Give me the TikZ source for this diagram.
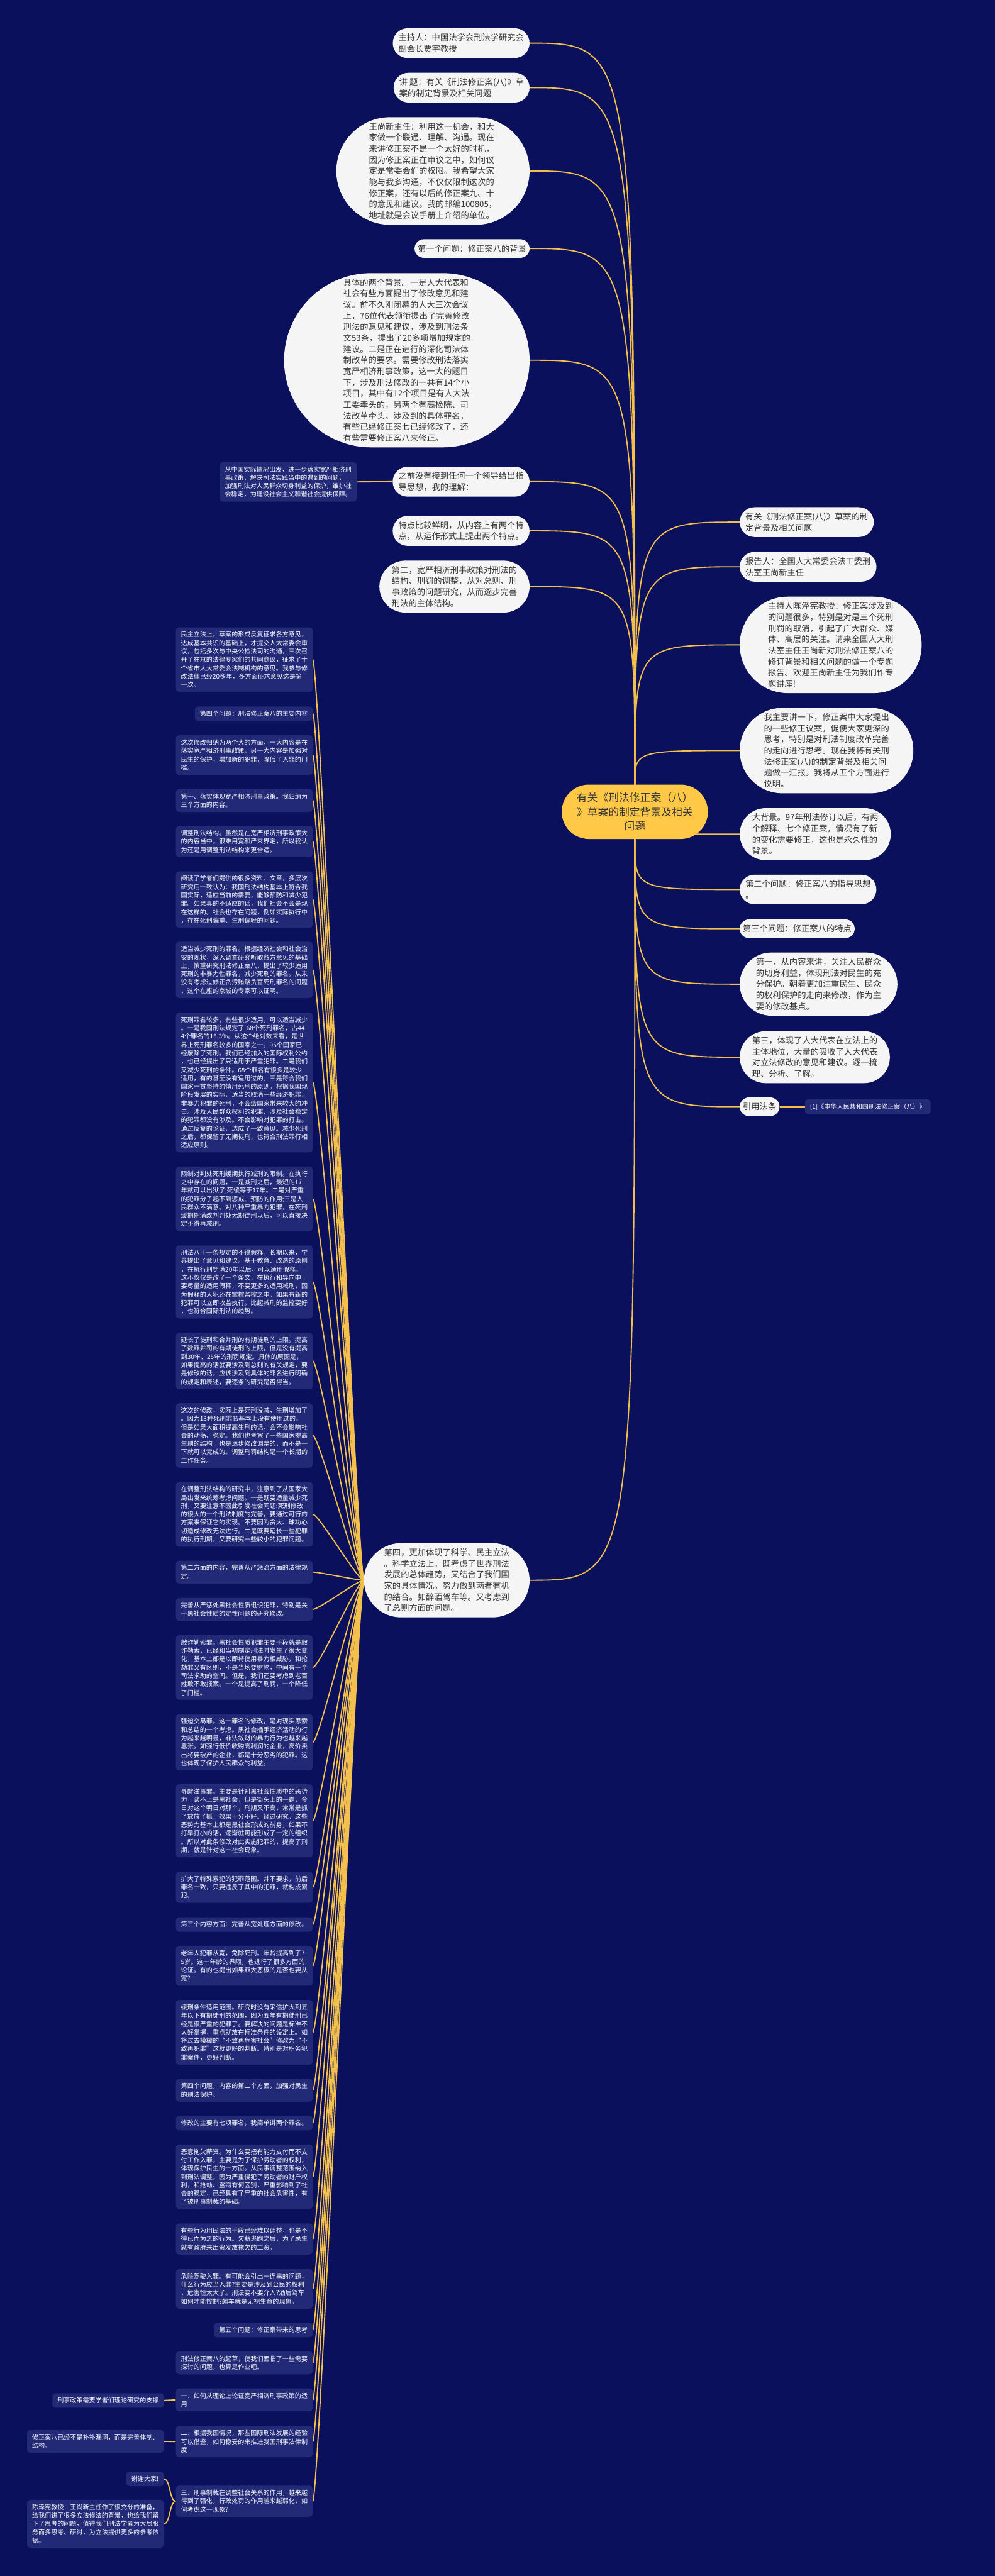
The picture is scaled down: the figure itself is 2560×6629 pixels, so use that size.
\documentclass[tikz,border=0pt]{standalone}
\usepackage{fontspec}
\setmainfont{Noto Sans CJK SC}
\usetikzlibrary{shapes.misc,backgrounds}

\definecolor{bgnavy}{HTML}{0B105C}
\definecolor{darkbox}{HTML}{222A78}
\definecolor{paper}{HTML}{F5F5F5}
\definecolor{ink}{HTML}{333333}
\definecolor{hubgold}{HTML}{FFC847}
\definecolor{wiregold}{HTML}{F3C04E}

\begin{document}
\begin{tikzpicture}[
  x=0.5pt, y=-0.5pt,
  pillbox/.style={shape=rounded rectangle,fill=paper,text=ink,align=left,
    font=\fontsize{10.75}{14.3}\selectfont,inner xsep=3pt,inner ysep=7pt},
  hubbox/.style={pillbox,fill=hubgold,align=center,
    font=\fontsize{13.6}{18.35}\selectfont,inner xsep=9pt,inner ysep=10.3pt},
  notebox/.style={fill=darkbox,text=white,rounded corners=4pt,align=left,
    font=\fontsize{8.15}{10.75}\selectfont,inner xsep=6.5pt,inner ysep=5.5pt},
  notewide/.style={notebox,text width=163pt},
  linkline/.style={draw=wiregold,line width=1.5pt},
  fanto/.style={to path={.. controls (\tikztostart |- \tikztotarget) .. (\tikztotarget)}},
  hookto/.style={to path={.. controls ([xshift=-8pt]\tikztostart) and ([xshift=8pt]\tikztotarget) .. (\tikztotarget)}},
]
\useasboundingbox (0,0) rectangle (2560,6629);
% ---- root ----
\node[hubbox] (root) at (1633.5,2089) {有关《刑法修正案（八）\\》草案的制定背景及相关\\问题};
% ---- left branches of the root ----
\node[pillbox,anchor=east] (host) at (1363,111) {主持人：中国法学会刑法学研究会\\副会长贾宇教授};
\node[pillbox,anchor=east] (topic) at (1363,225.5) {讲 题：有关《刑法修正案(八)》草\\案的制定背景及相关问题};
\node[pillbox,anchor=east] (wang) at (1363,440) {王尚新主任：利用这一机会，和大\\家做一个联通、理解、沟通。现在\\来讲修正案不是一个太好的时机，\\因为修正案正在审议之中，如何议\\定是常委会们的权限。我希望大家\\能与我多沟通，不仅仅限制这次的\\修正案，还有以后的修正案九、十\\的意见和建议。我的邮编100805，\\地址就是会议手册上介绍的单位。};
\node[pillbox,anchor=east] (qone) at (1363,639.5) {第一个问题：修正案八的背景};
\node[pillbox,anchor=east] (twobg) at (1363,927) {具体的两个背景。一是人大代表和\\社会有些方面提出了修改意见和建\\议。前不久刚闭幕的人大三次会议\\上，76位代表领衔提出了完善修改\\刑法的意见和建议，涉及到刑法条\\文53条，提出了20多项增加规定的\\建议。二是正在进行的深化司法体\\制改革的要求。需要修改刑法落实\\宽严相济刑事政策，这一大的题目\\下，涉及刑法修改的一共有14个小\\项目，其中有12个项目是有人大法\\工委牵头的，另两个有高检院、司\\法改革牵头。涉及到的具体罪名，\\有些已经修正案七已经修改了，还\\有些需要修正案八来修正。};
\node[pillbox,anchor=east] (noguide) at (1363,1239.5) {之前没有接到任何一个领导给出指\\导思想，我的理解：};
\node[notewide,anchor=east] (support) at (918,1240) {从中国实际情况出发，进一步落实宽严相济刑\\事政策，解决司法实践当中的遇到的问题，\\加强刑法对人民群众切身利益的保护，维护社\\会稳定，为建设社会主义和谐社会提供保障。};
\node[pillbox,anchor=east] (trait) at (1363,1366) {特点比较鲜明，从内容上有两个特\\点，从运作形式上提出两个特点。};
\node[pillbox,anchor=east] (second) at (1363,1509.5) {第二，宽严相济刑事政策对刑法的\\结构、刑罚的调整，从对总则、刑\\事政策的问题研究，从而逐步完善\\刑法的主体结构。};
\node[pillbox,anchor=east] (fourth) at (1363,4066.5) {第四，更加体现了科学、民主立法\\。科学立法上，既考虑了世界刑法\\发展的总体趋势，又结合了我们国\\家的具体情况。努力做到两者有机\\的结合。如醉酒驾车等。又考虑到\\了总则方面的问题。};
% ---- right branches of the root ----
\node[pillbox,anchor=west] (title) at (1903,1343.5) {有关《刑法修正案(八)》草案的制\\定背景及相关问题};
\node[pillbox,anchor=west] (reporter) at (1903,1458.5) {报告人：全国人大常委会法工委刑\\法室王尚新主任};
\node[pillbox,anchor=west] (chair) at (1903,1659.5) {主持人陈泽宪教授：修正案涉及到\\的问题很多，特别是对是三个死刑\\刑罚的取消，引起了广大群众、媒\\体、高层的关注。请来全国人大刑\\法室主任王尚新对刑法修正案八的\\修订背景和相关问题的做一个专题\\报告。欢迎王尚新主任为我们作专\\题讲座!};
\node[pillbox,anchor=west] (intro) at (1903,1931.5) {我主要讲一下，修正案中大家提出\\的一些修正议案，促使大家更深的\\思考，特别是对刑法制度改革完善\\的走向进行思考。现在我将有关刑\\法修正案(八)的制定背景及相关问\\题做一汇报。我将从五个方面进行\\说明。};
\node[pillbox,anchor=west] (bigbg) at (1903,2146.5) {大背景。97年刑法修订以后，有两\\个解释、七个修正案，情况有了新\\的变化需要修正，这也是永久性的\\背景。};
\node[pillbox,anchor=west] (qtwo) at (1903,2289) {第二个问题：修正案八的指导思想\\。};
\node[pillbox,anchor=west] (qthree) at (1903,2390) {第三个问题：修正案八的特点};
\node[pillbox,anchor=west] (people) at (1903,2532.5) {第一，从内容来讲，关注人民群众\\的切身利益，体现刑法对民生的充\\分保护。朝着更加注重民生、民众\\的权利保护的走向来修改，作为主\\要的修改基点。};
\node[pillbox,anchor=west] (deputies) at (1903,2720.5) {第三，体现了人大代表在立法上的\\主体地位，大量的吸收了人大代表\\对立法修改的意见和建议。逐一梳\\理、分析、了解。};
\node[pillbox,anchor=west] (cite) at (1903,2848) {引用法条};
\node[notebox,anchor=west] (lawref) at (2071,2848) {[1]《中华人民共和国刑法修正案（八）》};
% ---- children of "第四" (left column) ----
\node[notewide,anchor=east] (demo) at (805,1697.5) {民主立法上，草案的形成反复征求各方意见，\\达成基本共识的基础上，才提交人大常委会审\\议，包括多次与中央公检法司的沟通，三次召\\开了在京的法律专家们的共同商议，征求了十\\个省市人大常委会法制机构的意见。我参与修\\改法律已经20多年，多方面征求意见这是第\\一次。};
\node[notebox,anchor=east] (qfour) at (805,1836.5) {第四个问题：刑法修正案八的主要内容};
\node[notewide,anchor=east] (twoside) at (805,1943) {这次修改归纳为两个大的方面，一大内容是在\\落实宽严相济刑事政策，另一大内容是加强对\\民生的保护，增加新的犯罪，降低了入罪的门\\槛。};
\node[notewide,anchor=east] (lenient) at (805,2060) {第一、落实体现宽严相济刑事政策。我归纳为\\三个方面的内容。};
\node[notewide,anchor=east] (structure) at (805,2165.5) {调整刑法结构。虽然是在宽严相济刑事政策大\\的内容当中，很难用宽和严来界定，所以我认\\为还是用调整刑法结构来更合适。};
\node[notewide,anchor=east] (reading) at (805,2315) {阅读了学者们提供的很多资料、文章，多层次\\研究后一致认为：我国刑法结构基本上符合我\\国实际，适应当前的需要，能够预防和减少犯\\罪。如果真的不适应的话，我们社会不会是现\\在这样的。社会也存在问题，例如实际执行中\\，存在死刑偏重、生刑偏轻的问题。};
\node[notewide,anchor=east] (fewer) at (805,2496) {适当减少死刑的罪名。根据经济社会和社会治\\安的现状，深入调查研究听取各方意见的基础\\上，慎重研究刑法修正案八，提出了较少适用\\死刑的非暴力性罪名，减少死刑的罪名。从来\\没有考虑过修正贪污贿赂贪官死刑罪名的问题\\，这个在座的京城的专家可以证明。};
\node[notewide,anchor=east] (deathcount) at (805,2785.5) {死刑罪名较多，有些很少适用，可以适当减少\\。一是我国刑法规定了 68个死刑罪名，占44\\4个罪名的15.3\%。从这个绝对数来看，是世\\界上死刑罪名较多的国家之一。95个国家已\\经废除了死刑。我们已经加入的国际权利公约\\，也已经提出了只适用于严重犯罪。二是我们\\又减少死刑的条件。68个罪名有很多是较少\\适用，有的甚至没有适用过的。三是符合我们\\国家一贯坚持的慎用死刑的原则。根据我国现\\阶段发展的实际，适当的取消一些经济犯罪、\\非暴力犯罪的死刑，不会给国家带来较大的冲\\击。涉及人民群众权利的犯罪、涉及社会稳定\\的犯罪都没有涉及。不会影响对犯罪的打击。\\通过反复的论证，达成了一致意见。减少死刑\\之后，都保留了无期徒刑，也符合刑法罪行相\\适应原则。};
\node[notewide,anchor=east] (suspend) at (805,3085) {限制对判处死刑缓期执行减刑的限制。在执行\\之中存在的问题，一是减刑之后，最短的17\\年就可以出狱了;死缓等于17年。二是对严重\\的犯罪分子起不到惩戒、预防的作用;三是人\\民群众不满意。对八种严重暴力犯罪，在死刑\\缓期期满改判判处无期徒刑以后，可以直接决\\定不得再减刑。};
\node[notewide,anchor=east] (parole) at (805,3299) {刑法八十一条规定的不得假释。长期以来，学\\界提出了意见和建议。基于教育、改造的原则\\，在执行刑罚满20年以后，可以适用假释。\\这不仅仅是改了一个条文，在执行和导向中，\\要尽量的适用假释，不要更多的适用减刑，因\\为假释的人犯还在掌控监控之中，如果有新的\\犯罪可以立即收监执行。比起减刑的监控要好\\，也符合国际刑法的趋势。};
\node[notewide,anchor=east] (extend) at (805,3502.5) {延长了徒刑和合并刑的有期徒刑的上限。提高\\了数罪并罚的有期徒刑的上限，但是没有提高\\到30年、25年的刑罚规定。具体的原因是，\\如果提高的话就要涉及到总则的有关规定，要\\是修改的话，应该涉及到具体的罪名进行明确\\的规定和表述，要逐条的研究是否得当。};
\node[notewide,anchor=east] (netchange) at (805,3694) {这次的修改，实际上是死刑没减，生刑增加了\\。因为13种死刑罪名基本上没有使用过的。\\但是如果大面积提高生刑的话，会不会影响社\\会的动荡、稳定。我们也考察了一些国家提高\\生刑的结构，也是逐步修改调整的，而不是一\\下就可以完成的。调整刑罚结构是一个长期的\\工作任务。};
\node[notewide,anchor=east] (overall) at (805,3897) {在调整刑法结构的研究中，注意到了从国家大\\局出发来统筹考虑问题。一是既要适量减少死\\刑，又要注意不因此引发社会问题;死刑修改\\的很大的一个刑法制度的完善，要通过可行的\\方案来保证它的实现。不要因为贪大、球功心\\切造成修改无法进行。二是既要延长一些犯罪\\的执行刑期，又要研究一些较小的犯罪问题。};
\node[notewide,anchor=east] (severe) at (805,4045.5) {第二方面的内容，完善从严惩治方面的法律规\\定。};
\node[notewide,anchor=east] (mafia) at (805,4141.5) {完善从严惩处黑社会性质组织犯罪，特别是关\\于黑社会性质的定性问题的研究修改。};
\node[notewide,anchor=east] (extort) at (805,4291) {敲诈勒索罪。黑社会性质犯罪主要手段就是敲\\诈勒索，已经和当初制定刑法时发生了很大变\\化，基本上都是以即将使用暴力相威胁，和抢\\劫罪又有区别，不是当场要财物，中间有一个\\司法求助的空间。但是，我们还要考虑到老百\\姓敢不敢报案。一个是提高了刑罚，一个降低\\了门槛。};
\node[notewide,anchor=east] (coerce) at (805,4483.5) {强迫交易罪。这一罪名的修改，是对现实思索\\和总结的一个考虑。黑社会插手经济活动的行\\为越来越明显，非法敛财的暴力行为也越来越\\嚣张。如强行低价收购高利润的企业，高价卖\\出将要破产的企业，都是十分恶劣的犯罪。这\\也体现了保护人民群众的利益。};
\node[notewide,anchor=east] (provoke) at (805,4685.5) {寻衅滋事罪。主要是针对黑社会性质中的恶势\\力，谈不上是黑社会，但是街头上的一霸，今\\日对这个明日对那个，刑期又不高，常常是抓\\了放放了抓，效果十分不好。经过研究，这些\\恶势力基本上都是黑社会形成的前身，如果不\\打早打小的话，逐渐就可能形成了一定的组织\\。所以对此条修改对此实施犯罪的，提高了刑\\期，就是针对这一社会现象。};
\node[notewide,anchor=east] (recid) at (805,4856.5) {扩大了特殊累犯的犯罪范围。并不要求，前后\\罪名一致，只要违反了其中的犯罪，就构成累\\犯。};
\node[notebox,anchor=east] (lenience) at (805,4952.5) {第三个内容方面：完善从宽处理方面的修改。};
\node[notewide,anchor=east] (elderly) at (805,5059) {老年人犯罪从宽，免除死刑。年龄提高到了7\\5岁。这一年龄的界限，也进行了很多方面的\\论证。有的也提出如果罪大恶极的是否也要从\\宽?};
\node[notewide,anchor=east] (probation) at (805,5230) {缓刑条件适用范围。研究时没有采信扩大到五\\年以下有期徒刑的范围，因为五年有期徒刑已\\经是很严重的犯罪了。要解决的问题是标准不\\太好掌握，重点就放在标准条件的设定上。如\\将过去模糊的“不致再危害社会”修改为“不\\致再犯罪”这就更好的判断。特别是对职务犯\\罪案件，更好判断。};
\node[notewide,anchor=east] (livelihood) at (805,5379) {第四个问题，内容的第二个方面，加强对民生\\的刑法保护。};
\node[notebox,anchor=east] (seven) at (805,5463.5) {修改的主要有七项罪名，我简单讲两个罪名。};
\node[notewide,anchor=east] (wages) at (805,5601.5) {恶意拖欠薪资。为什么要把有能力支付而不支\\付工作入罪，主要是为了保护劳动者的权利，\\体现保护民生的一方面。从民事调整范围纳入\\到刑法调整，因为严重侵犯了劳动者的财产权\\利，和抢劫、盗窃有何区别，严重影响到了社\\会的稳定，已经具有了严重的社会危害性，有\\了被刑事制裁的基础。};
\node[notewide,anchor=east] (civil) at (805,5761.5) {有些行为用民法的手段已经难以调整，也是不\\得已而为之的行为。欠薪逃跑之后，为了民生\\就有政府来出资发放拖欠的工资。};
\node[notewide,anchor=east] (drunk) at (805,5890) {危险驾驶入罪。有可能会引出一连串的问题，\\什么行为应当入罪?主要是涉及到公民的权利\\，危害性太大了。刑法要不要介入?酒后驾车\\如何才能控制?飙车就是无视生命的现象。};
\node[notebox,anchor=east] (qfive) at (805,5996) {第五个问题：修正案带来的思考};
\node[notewide,anchor=east] (draft) at (805,6080.5) {刑法修正案八的起草，使我们面临了一些需要\\探讨的问题，也算是作业吧。};
\node[notewide,anchor=east] (theory) at (805,6175.5) {一、如何从理论上论证宽严相济刑事政策的适\\用};
\node[notewide,anchor=east] (foreign) at (805,6283) {二、根据我国情况，那些国际刑法发展的经验\\可以借鉴，如何稳妥的来推进我国刑事法律制\\度};
\node[notewide,anchor=east] (sanction) at (805,6436.5) {三、刑事制裁在调整社会关系的作用，越来越\\得到了强化，行政处罚的作用越来越弱化，如\\何考虑这一现象？};
% ---- leaves on the far left ----
\node[notebox,anchor=east] (scholars) at (422,6177) {刑事政策需要学者们理论研究的支撑};
\node[notebox,anchor=east] (patch) at (422,6282.5) {修正案八已经不是补补漏洞，而是完善体制、\\结构。};
\node[notebox,anchor=east] (thanks) at (422,6379) {谢谢大家!};
\node[notebox,anchor=east] (closing) at (422,6494.5) {陈泽宪教授：王尚新主任作了很充分的准备，\\给我们讲了很多立法修法的背景，也给我们留\\下了思考的问题，值得我们刑法学者为大局服\\务而多思考、研讨，为立法提供更多的参考依\\据。};
% ---- connectors, behind the nodes ----
\begin{scope}[on background layer]
\fill[bgnavy] (0,0) rectangle (2560,6629);
\foreach \n in {host,topic,wang,qone,twobg,noguide,trait,second}
  \draw[linkline] (root.north) to[fanto] (\n.east);
\draw[linkline] (root.south) to[fanto] (fourth.east);
\foreach \n in {title,reporter,chair,intro}
  \draw[linkline] (root.north) to[fanto] (\n.west);
\foreach \n in {bigbg,qtwo,qthree,people,deputies,cite}
  \draw[linkline] (root.south) to[fanto] (\n.west);
\draw[linkline] (cite.east) -- (lawref.west);
\draw[linkline] (noguide.west) -- (support.east);
\foreach \n in {demo,qfour,twoside,lenient,structure,reading,fewer,deathcount,suspend,parole,extend,netchange,overall,severe,mafia,extort,coerce,provoke,recid,lenience,elderly,probation,livelihood,seven,wages,civil,drunk,qfive,draft,theory,foreign,sanction}
  \draw[linkline] (fourth.west) to[hookto] (\n.east);
\draw[linkline] (theory.west) to[hookto] (scholars.east);
\draw[linkline] (foreign.west) to[hookto] (patch.east);
\draw[linkline] (sanction.west) to[hookto] (thanks.east);
\draw[linkline] (sanction.west) to[hookto] (closing.east);
\end{scope}
\end{tikzpicture}
\end{document}
